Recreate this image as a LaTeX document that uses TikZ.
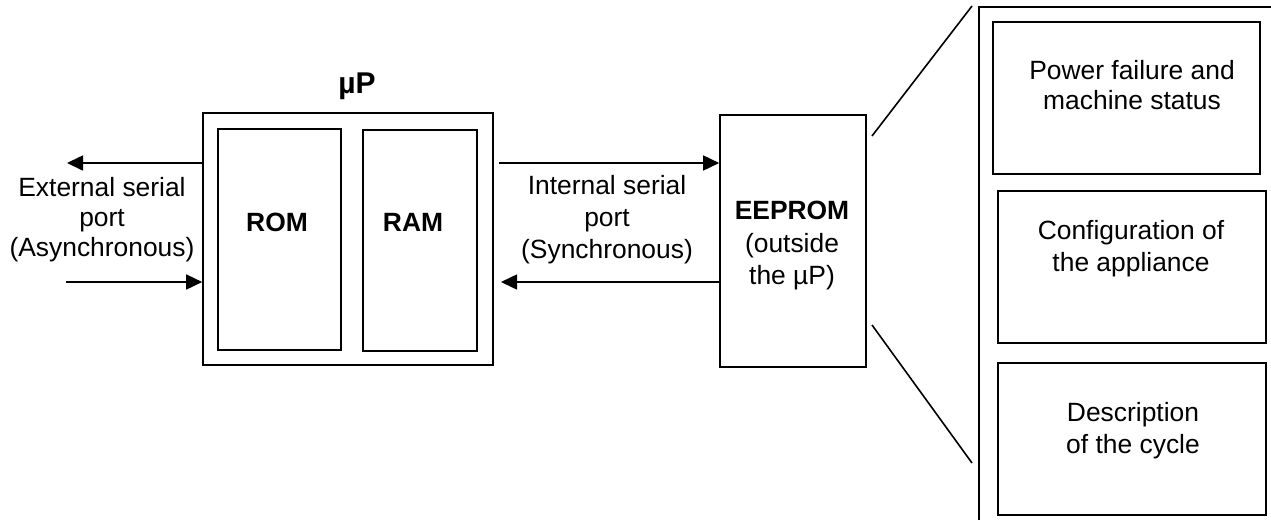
\documentclass[tikz,border=0pt]{standalone}
\usepackage{fontspec}
\setmainfont{Liberation Sans}
\usetikzlibrary{arrows.meta}
\tikzset{
  box/.style={draw, line width=1.6pt, rectangle, inner sep=0pt},
  lbl/.style={align=center, font=\fontsize{26.4}{30}\selectfont, inner sep=0pt},
  lblb/.style={align=center, font=\fontsize{26.4}{30}\selectfont\bfseries, inner sep=0pt},
  arr/.style={line width=1.6pt, -{Triangle[length=16pt,width=15pt]}},
  ln/.style={line width=1.6pt}
}
\begin{document}
\begin{tikzpicture}[x=1pt,y=-1pt]
\useasboundingbox (0,0) rectangle (1271,520);
% microprocessor
\node[box, minimum width=290pt, minimum height=252pt] (up) at (348,239) {};
\node[lblb, font=\fontsize{30}{32}\selectfont\bfseries] (uplbl) at (357,86) {µP};
\node[box, minimum width=123pt, minimum height=221pt] (rom) at (279.5,239.5) {};
\node[lblb] (romlbl) at (277,222) {ROM};
\node[box, minimum width=114pt, minimum height=221pt] (ram) at (420,240.5) {};
\node[lblb] (ramlbl) at (413,222) {RAM};
% external port
\node[lbl] (ext) at (102,220) {External serial\\port\\(Asynchronous)};
\coordinate (extout) at (67,163);
\coordinate (extin) at (66,282);
\draw[arr] (extout -| up.west) -- (extout);
\draw[arr] (extin) -- (extin -| up.west);
% EEPROM
\node[box, minimum width=146pt, minimum height=252pt] (ee) at (793,241) {};
\node[lbl, font=\fontsize{26.4}{32.5}\selectfont] (eelbl) at (792,246) {\textbf{EEPROM}\\(outside\\the µP)};
% internal port
\node[lbl, font=\fontsize{26.4}{32}\selectfont] (int) at (607,220) {Internal serial\\port\\(Synchronous)};
\coordinate (intA) at (499,163);
\coordinate (intB) at (501,282);
\draw[arr] (intA) -- (intA -| ee.west);
\draw[arr] (intB -| ee.west) -- (intB);
% zoom lines
\coordinate (zA1) at (872,136);
\coordinate (zA2) at (972,6);
\coordinate (zB1) at (872,325);
\coordinate (zB2) at (972,463);
\draw[ln] (zA1) -- (zA2);
\draw[ln] (zB1) -- (zB2);
% memory map frame
\coordinate (fA) at (979,520);
\coordinate (fB) at (979,7);
\coordinate (fC) at (1271,7);
\draw[ln] (fA) -- (fB) -- (fC);
\node[box, minimum width=267pt, minimum height=152pt] (b1) at (1126.5,98) {};
\node[lbl] (b1lbl) at (1132,85) {Power failure and\\machine status};
\node[box, minimum width=268pt, minimum height=152pt] (b2) at (1132,267) {};
\node[lbl, font=\fontsize{26.4}{32}\selectfont] (b2lbl) at (1131,249) {Configuration of\\the appliance};
\node[box, minimum width=268pt, minimum height=152pt] (b3) at (1132,439) {};
\node[lbl, font=\fontsize{26.4}{32}\selectfont] (b3lbl) at (1133,431) {Description\\of the cycle};
\end{tikzpicture}
\end{document}
